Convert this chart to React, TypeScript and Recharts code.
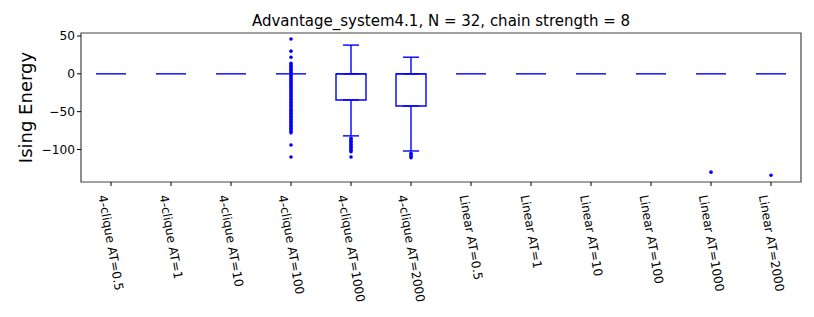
import {
  Bar,
  ComposedChart,
  ErrorBar,
  ReferenceArea,
  Scatter,
  XAxis,
  YAxis
} from 'recharts';

const categories = [
  '4-clique AT=0.5', '4-clique AT=1', '4-clique AT=10', '4-clique AT=100',
  '4-clique AT=1000', '4-clique AT=2000', 'Linear AT=0.5', 'Linear AT=1',
  'Linear AT=10', 'Linear AT=100', 'Linear AT=1000', 'Linear AT=2000'
];

// box stats per category
const q1 = [0, 0, 0, 0, -34.5, -42.5, 0, 0, 0, 0, 0, 0];
const median = [0, 0, 0, 0, 0, 0, 0, 0, 0, 0, 0, 0];
const q3 = [0, 0, 0, 0, 0, 0, 0, 0, 0, 0, 0, 0];
const whiskerLow = [0, 0, 0, 0, -82, -102, 0, 0, 0, 0, 0, 0];
const whiskerHigh = [0, 0, 0, 0, 38, 22, 0, 0, 0, 0, 0, 0];

const outliers: number[][] = [
  [],
  [],
  [],
  [46, 30, 22, 14, 12, 10, 8, 6, 4, 2, -2, -4, -6, -8, -10, -12, -14, -16, -18, -20,
    -22, -24, -26, -28, -30, -32, -34, -36, -38, -40, -42, -44, -46, -48, -50, -52,
    -54, -56, -58, -60, -62, -64, -66, -68, -70, -72, -74, -76, -78, -94, -110],
  [-85, -87, -89, -91, -93, -95, -97, -99, -101, -103, -110],
  [-105, -107, -109, -111],
  [],
  [],
  [],
  [],
  [-130],
  [-134]
];

const yTicks = [-100, -50, 0, 50];
const yDomain = [-143, 54];
const title = 'Advantage_system4.1, N = 32, chain strength = 8';

const FONT = '"DejaVu Sans", sans-serif';
const BLUE = '#0000ff';

const boxRows = categories.map((name, i) => ({
  idx: i,
  name,
  box: [q1[i], q3[i]],
  median: median[i],
  q1: q1[i],
  q3: q3[i],
  upper: [0, whiskerHigh[i] - q3[i]],
  lower: [q1[i] - whiskerLow[i], 0]
}));

// only boxes with a real spread get whiskers
const spreadRows = boxRows.filter((_, i) => whiskerHigh[i] !== whiskerLow[i]);

const outlierRows = outliers.flatMap((vals, i) => vals.map(v => ({ idx: i, value: v })));

function XTick({ x, y, payload }: any) {
  const label = categories[payload.value] ?? '';
  const len = label.length * 6.5;
  return (
    <text
      transform={`translate(${x - len * 0.087},${y + 7}) rotate(80)`}
      dy="0.35em"
      fontSize={12.2}
      fontFamily={FONT}
      fill="#000"
    >
      {label}
    </text>
  );
}

const MedianLine = ({ cx, cy }: any) => (
  <line x1={cx - 15} x2={cx + 15} y1={cy} y2={cy} stroke={BLUE} strokeWidth={1.4} />
);

const Dot = ({ cx, cy }: any) => <circle cx={cx} cy={cy} r={1.8} fill={BLUE} />;

const Empty = () => <g />;

export default function App() {
  return (
    <div style={{ position: 'absolute', left: 0, top: 0, width: 814, height: 317, background: '#fff', fontFamily: FONT }}>
      <div
        style={{
          position: 'absolute', left: 81, width: 720, top: 13, textAlign: 'center',
          fontSize: 15, lineHeight: '16px', color: '#000'
        }}
      >
        {title}
      </div>
      <ComposedChart
        width={814}
        height={317}
        data={boxRows}
        margin={{ top: 33, right: 13, bottom: 0, left: 0 }}
      >
        <XAxis
          type="number"
          dataKey="idx"
          domain={[-0.5, 11.5]}
          ticks={categories.map((_, i) => i)}
          interval={0}
          height={135}
          tickSize={4}
          tickLine={{ stroke: '#000' }}
          axisLine={false}
          tick={<XTick />}
        />
        <YAxis
          type="number"
          domain={yDomain}
          allowDataOverflow
          ticks={yTicks}
          width={81}
          tickSize={4}
          tickLine={{ stroke: '#000' }}
          axisLine={false}
          tick={{ fill: '#000', fontSize: 12.2, fontFamily: FONT }}
          tickFormatter={(v: number) => String(v).replace('-', '\u2212')}
          label={{
            value: 'Ising Energy',
            content: ({ viewBox }: any) => {
              const cx = viewBox.x + 25;
              const cy = viewBox.y + viewBox.height / 2;
              return (
                <text
                  x={cx}
                  y={cy}
                  transform={`rotate(-90,${cx},${cy})`}
                  textAnchor="middle"
                  dominantBaseline="central"
                  fontSize={18}
                  fontFamily={FONT}
                  fill="#000"
                >
                  Ising Energy
                </text>
              );
            }
          }}
        />
        <ReferenceArea
          x1={-0.5}
          x2={11.5}
          y1={yDomain[0]}
          y2={yDomain[1]}
          fill="none"
          stroke="#444"
          strokeWidth={1.2}
          ifOverflow="visible"
        />
        <Bar dataKey="box" barSize={30} fill="none" stroke={BLUE} strokeWidth={1.4} isAnimationActive={false} />
        <Scatter data={spreadRows} dataKey="q3" shape={<Empty />} isAnimationActive={false}>
          <ErrorBar dataKey="upper" direction="y" width={8} stroke={BLUE} strokeWidth={1.4} />
        </Scatter>
        <Scatter data={spreadRows} dataKey="q1" shape={<Empty />} isAnimationActive={false}>
          <ErrorBar dataKey="lower" direction="y" width={8} stroke={BLUE} strokeWidth={1.4} />
        </Scatter>
        <Scatter dataKey="median" shape={<MedianLine />} isAnimationActive={false} />
        <Scatter data={outlierRows} dataKey="value" shape={<Dot />} isAnimationActive={false} />
      </ComposedChart>
    </div>
  );
}
